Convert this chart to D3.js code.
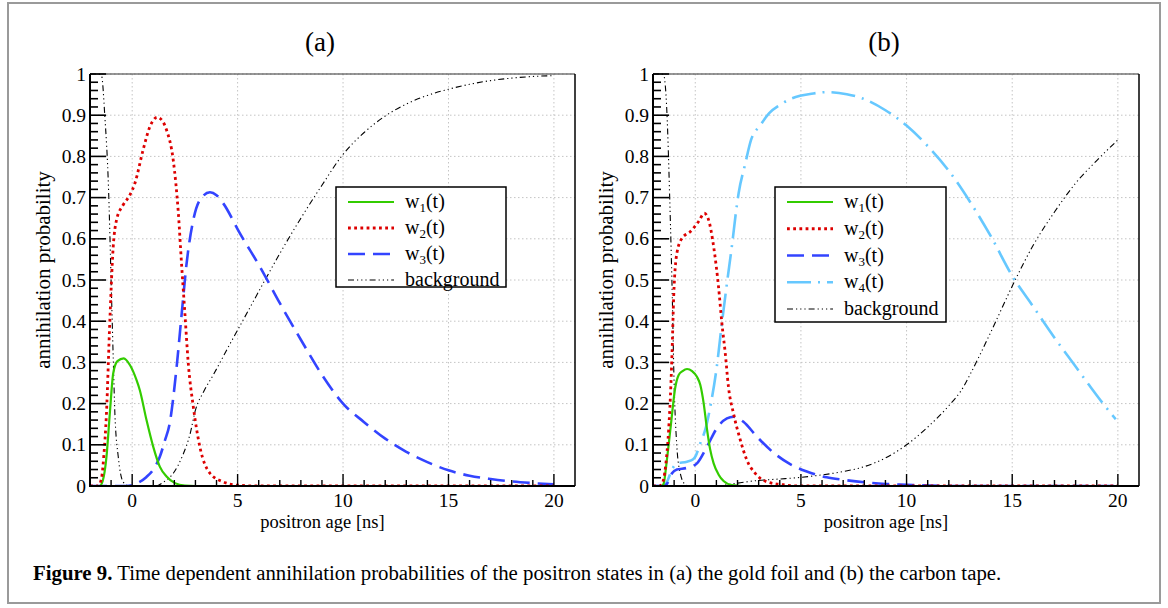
<!DOCTYPE html>
<html>
<head>
<meta charset="utf-8">
<script src="https://cdn.jsdelivr.net/npm/d3@7"></script>
<style>
  html, body { margin: 0; padding: 0; background: #fff; }
  svg { display: block; font-family: "Liberation Serif", "DejaVu Serif", serif; }
</style>
</head>
<body>
<svg id="fig" width="1168" height="608"></svg>
<script>
// ---- data: [positron age (ns), annihilation probability] ----
// (a) gold foil
const goldW1 = [[-2,0],[-1.55,0],[-1.4,0.012],[-1.22,0.07],[-1.06,0.176],[-0.9,0.273],[-0.7,0.303],[-0.4,0.31],[-0.1,0.293],[0.2,0.258],[0.36,0.233],[0.68,0.16],[1.0,0.095],[1.31,0.047],[1.63,0.023],[2.03,0.007],[2.5,0.001],[3,0],[20,0]];
const goldW2 = [[-2,0],[-1.62,0],[-1.45,0.02],[-1.35,0.07],[-1.22,0.176],[-1.06,0.40],[-0.9,0.58],[-0.74,0.646],[-0.43,0.682],[-0.11,0.706],[0.13,0.735],[0.52,0.816],[0.84,0.872],[1.19,0.895],[1.45,0.885],[1.63,0.864],[1.95,0.79],[2.07,0.735],[2.19,0.662],[2.34,0.54],[2.5,0.419],[2.66,0.298],[2.9,0.192],[3.21,0.095],[3.69,0.031],[4.32,0.01],[5,0.002],[6,0],[20,0]];
const goldW3 = [[-2,0],[-0.3,0],[0.2,0.006],[0.68,0.022],[1.0,0.04],[1.31,0.071],[1.55,0.11],[1.79,0.155],[1.95,0.215],[2.11,0.29],[2.35,0.419],[2.58,0.54],[2.9,0.646],[3.21,0.694],[3.69,0.713],[4.0,0.706],[4.32,0.686],[5.11,0.613],[6.06,0.532],[7.01,0.443],[8,0.355],[9,0.27],[10,0.2],[11,0.155],[12,0.115],[13,0.083],[14,0.058],[15,0.038],[16,0.025],[17,0.017],[18,0.011],[19,0.007],[20,0.004]];
const goldBg = [[-2,1],[-1.6,1],[-1.45,0.995],[-1.3,0.9],[-1.12,0.72],[-1.0,0.5],[-0.9,0.314],[-0.82,0.176],[-0.66,0.071],[-0.43,0.01],[-0.2,0.001],[0.5,0],[1.1,0],[1.5,0.01],[1.95,0.031],[2.4,0.075],[2.74,0.125],[3.0,0.184],[3.4,0.23],[3.85,0.27],[4.64,0.345],[5.5,0.425],[6.3,0.5],[7.01,0.565],[8,0.65],[9,0.73],[10,0.805],[11,0.858],[12,0.898],[13,0.927],[14,0.948],[15,0.963],[16,0.975],[17,0.984],[18,0.99],[19,0.994],[20,0.996]];

// (b) carbon tape
const carbonW1 = [[-2,0],[-1.6,0],[-1.5,0.005],[-1.35,0.06],[-1.18,0.136],[-0.94,0.241],[-0.79,0.269],[-0.6,0.279],[-0.39,0.284],[-0.15,0.279],[0.08,0.265],[0.24,0.245],[0.4,0.2],[0.55,0.14],[0.7,0.09],[0.87,0.055],[1.1,0.028],[1.34,0.012],[1.73,0.002],[2.2,0],[20,0]];
const carbonW2 = [[-2,0],[-1.7,0],[-1.57,0.005],[-1.4,0.05],[-1.26,0.136],[-1.15,0.25],[-1.1,0.322],[-1.02,0.46],[-0.87,0.565],[-0.63,0.601],[-0.24,0.617],[0.16,0.642],[0.43,0.662],[0.63,0.646],[0.87,0.581],[1.1,0.484],[1.26,0.395],[1.42,0.322],[1.57,0.241],[1.81,0.176],[2.13,0.112],[2.44,0.063],[2.83,0.031],[3.39,0.01],[4.17,0.003],[5,0],[20,0]];
const carbonW3 = [[-2,0],[-1.5,0],[-1.34,0.005],[-1.2,0.02],[-1.1,0.031],[-0.87,0.04],[-0.39,0.044],[0.08,0.055],[0.55,0.095],[1.02,0.14],[1.5,0.164],[1.81,0.168],[2.28,0.156],[2.91,0.12],[3.7,0.081],[4.49,0.053],[5.28,0.035],[6.22,0.021],[7,0.015],[8,0.009],[9,0.005],[10,0.003],[11,0.001],[12,0],[20,0]];
const carbonW4 = [[-2,0],[-1.5,0],[-1.34,0.01],[-1.1,0.04],[-0.87,0.055],[-0.39,0.059],[-0.1,0.065],[0.0,0.071],[0.24,0.104],[0.47,0.136],[0.71,0.192],[1.02,0.29],[1.26,0.395],[1.5,0.492],[1.73,0.581],[1.97,0.682],[2.05,0.71],[2.36,0.781],[2.64,0.84],[3.07,0.875],[3.5,0.905],[4.01,0.925],[4.49,0.939],[4.96,0.947],[5.5,0.952],[6.22,0.956],[7.17,0.951],[7.79,0.943],[9,0.912],[10,0.875],[11,0.825],[12,0.765],[13,0.69],[14,0.605],[15,0.51],[16,0.435],[17,0.36],[18,0.29],[18.64,0.245],[19.3,0.2],[19.9,0.162]];
const carbonBg = [[-2,1],[-1.6,1],[-1.5,0.998],[-1.34,0.905],[-1.21,0.7],[-1.07,0.419],[-1.02,0.29],[-0.87,0.095],[-0.71,0.031],[-0.5,0.005],[-0.3,0],[1.0,0],[1.5,0.003],[2.13,0.008],[2.9,0.013],[4,0.017],[5,0.021],[6,0.027],[7,0.035],[8,0.047],[9,0.068],[10,0.1],[11,0.143],[12,0.195],[12.7,0.241],[13,0.27],[14,0.375],[15,0.485],[16,0.585],[17,0.665],[18,0.735],[19,0.79],[20,0.84]];

// axis ticks
const xMajor = [0, 5, 10, 15, 20];
const yMajor = [0, 0.1, 0.2, 0.3, 0.4, 0.5, 0.6, 0.7, 0.8, 0.9, 1];
const yTickLabels = ["0", "0.1", "0.2", "0.3", "0.4", "0.5", "0.6", "0.7", "0.8", "0.9", "1"];

// series styling
const styles = {
  w1: { color: "#33cc00", width: 2.2, dash: null, sub: "1" },
  w2: { color: "#dd0000", width: 2.8, dash: "2.8,3.4", sub: "2" },
  w3: { color: "#3344ff", width: 2.6, dash: "17,8", sub: "3" },
  w4: { color: "#66c8ff", width: 2.6, dash: "24,7,2,7", sub: "4" },
  bg: { color: "#000000", width: 1.1, dash: "6,3,1.2,3,1.2,3,1.2,3", sub: null }
};

const svg = d3.select("#fig");

// outer figure frame
svg.append("rect").attr("x", 8).attr("y", 3).attr("width", 1152).attr("height", 600)
  .attr("fill", "none").attr("stroke", "#9a9a9a").attr("stroke-width", 2);

function drawPanel(cfg) {
  const { left, top, width, height, title, titleX, series, legend } = cfg;
  const g = svg.append("g");
  const x = d3.scaleLinear().domain([-2, 21]).range([left, left + width]);
  const y = d3.scaleLinear().domain([0, 1]).range([top + height, top]);
  const bottom = top + height;

  // grid
  g.append("g").selectAll("line.gx").data(xMajor).join("line")
    .attr("x1", d => x(d)).attr("x2", d => x(d)).attr("y1", top).attr("y2", bottom)
    .attr("stroke", "#c4c4c4").attr("stroke-width", 1).attr("stroke-dasharray", "1.5,2.5");
  g.append("g").selectAll("line.gy").data(yMajor.filter(v => v > 0)).join("line")
    .attr("x1", left).attr("x2", left + width).attr("y1", d => y(d)).attr("y2", d => y(d))
    .attr("stroke", "#c4c4c4").attr("stroke-width", 1).attr("stroke-dasharray", "1.5,2.5");

  // curves
  const clipId = "clip" + title.replace(/\W/g, "");
  g.append("clipPath").attr("id", clipId).append("rect")
    .attr("x", left).attr("y", top - 2).attr("width", width).attr("height", height + 2);
  const line = d3.line().x(d => x(d[0])).y(d => y(d[1])).curve(d3.curveMonotoneX);
  const cg = g.append("g").attr("clip-path", `url(#${clipId})`);
  series.forEach(s => {
    const st = styles[s.key];
    cg.append("path").datum(s.data).attr("d", line)
      .attr("fill", "none").attr("stroke", st.color).attr("stroke-width", st.width)
      .attr("stroke-dasharray", st.dash).attr("stroke-linejoin", "round");
  });

  // frame: top and right
  g.append("line").attr("x1", left).attr("x2", left + width).attr("y1", top).attr("y2", top)
    .attr("stroke", "#333").attr("stroke-width", 1.2);
  g.append("line").attr("x1", left + width).attr("x2", left + width).attr("y1", top).attr("y2", bottom)
    .attr("stroke", "#000").attr("stroke-width", 1.5);

  // y axis with inward ticks
  const yMinor = d3.range(0, 1.0001, 0.02).filter(v => Math.abs(Math.round(v * 10) - v * 10) > 1e-6);
  g.append("g").selectAll("line").data(yMinor).join("line")
    .attr("x1", left).attr("x2", left + 8).attr("y1", d => y(d)).attr("y2", d => y(d))
    .attr("stroke", "#000").attr("stroke-width", 1.6);
  g.append("g").selectAll("line").data(yMajor).join("line")
    .attr("x1", left).attr("x2", left + 16).attr("y1", d => y(d)).attr("y2", d => y(d))
    .attr("stroke", "#000").attr("stroke-width", 1.6);
  g.append("line").attr("x1", left).attr("x2", left).attr("y1", top).attr("y2", bottom + 1)
    .attr("stroke", "#000").attr("stroke-width", 2);
  g.append("g").selectAll("text").data(yMajor).join("text")
    .attr("x", left - 4).attr("y", d => y(d)).attr("dy", "0.34em")
    .attr("text-anchor", "end").attr("font-size", 19.5)
    .text((d, i) => yTickLabels[i]);

  // x axis with inward ticks
  const xMinor = d3.range(-1, 21, 1).filter(v => v % 5 !== 0);
  g.append("g").selectAll("line").data(xMinor).join("line")
    .attr("x1", d => x(d)).attr("x2", d => x(d)).attr("y1", bottom).attr("y2", bottom - 6)
    .attr("stroke", "#000").attr("stroke-width", 1.4);
  g.append("g").selectAll("line").data(xMajor).join("line")
    .attr("x1", d => x(d)).attr("x2", d => x(d)).attr("y1", bottom).attr("y2", bottom - 12)
    .attr("stroke", "#000").attr("stroke-width", 1.4);
  g.append("line").attr("x1", left - 1).attr("x2", left + width).attr("y1", bottom).attr("y2", bottom)
    .attr("stroke", "#000").attr("stroke-width", 2);
  g.append("g").selectAll("text").data(xMajor).join("text")
    .attr("x", d => x(d)).attr("y", bottom + 21)
    .attr("text-anchor", "middle").attr("font-size", 19.5)
    .text(d => d);

  // axis titles
  g.append("text").attr("x", left + width / 2 - 10).attr("y", bottom + 42)
    .attr("text-anchor", "middle").attr("font-size", 18.5).text("positron age [ns]");
  g.append("text").attr("transform", `translate(${left - 40},${top + height / 2 - 10}) rotate(-90)`)
    .attr("text-anchor", "middle").attr("font-size", 21).text("annihilation probability");

  // panel title
  g.append("text").attr("x", titleX).attr("y", 51).attr("text-anchor", "middle")
    .attr("font-size", 27).text(title);

  // legend
  const lg = g.append("g");
  lg.append("rect").attr("x", legend.x).attr("y", legend.y).attr("width", legend.w).attr("height", legend.h)
    .attr("fill", "#fff").attr("stroke", "#000").attr("stroke-width", 1.5);
  legend.keys.forEach((k, i) => {
    const st = styles[k];
    const cy = legend.y + 15 + i * legend.step;
    lg.append("line").attr("x1", legend.x + 12).attr("x2", legend.x + 58).attr("y1", cy).attr("y2", cy)
      .attr("stroke", st.color).attr("stroke-width", st.width).attr("stroke-dasharray", st.dash);
    const t = lg.append("text").attr("x", legend.x + 69).attr("y", cy).attr("dy", "0.3em")
      .attr("font-size", 20);
    if (st.sub) {
      t.append("tspan").text("w");
      t.append("tspan").attr("font-size", 13).attr("dy", 4).text(st.sub);
      t.append("tspan").attr("dy", -4).text("(t)");
    } else {
      t.text("background");
    }
  });
}

drawPanel({
  left: 90, top: 74, width: 485, height: 412, title: "(a)", titleX: 320,
  series: [
    { key: "bg", data: goldBg },
    { key: "w3", data: goldW3 },
    { key: "w1", data: goldW1 },
    { key: "w2", data: goldW2 }
  ],
  legend: { x: 336, y: 187, w: 170, h: 100, step: 26, keys: ["w1", "w2", "w3", "bg"] }
});

drawPanel({
  left: 653, top: 74, width: 486, height: 412, title: "(b)", titleX: 884,
  series: [
    { key: "bg", data: carbonBg },
    { key: "w4", data: carbonW4 },
    { key: "w3", data: carbonW3 },
    { key: "w1", data: carbonW1 },
    { key: "w2", data: carbonW2 }
  ],
  legend: { x: 775, y: 187, w: 171, h: 135, step: 26.75, keys: ["w1", "w2", "w3", "w4", "bg"] }
});

// caption
const cap = svg.append("text").attr("x", 33).attr("y", 580).attr("font-size", 20.8);
cap.append("tspan").attr("font-weight", "bold").text("Figure 9.");
cap.append("tspan").text(" Time dependent annihilation probabilities of the positron states in (a) the gold foil and (b) the carbon tape.");
</script>
</body>
</html>
